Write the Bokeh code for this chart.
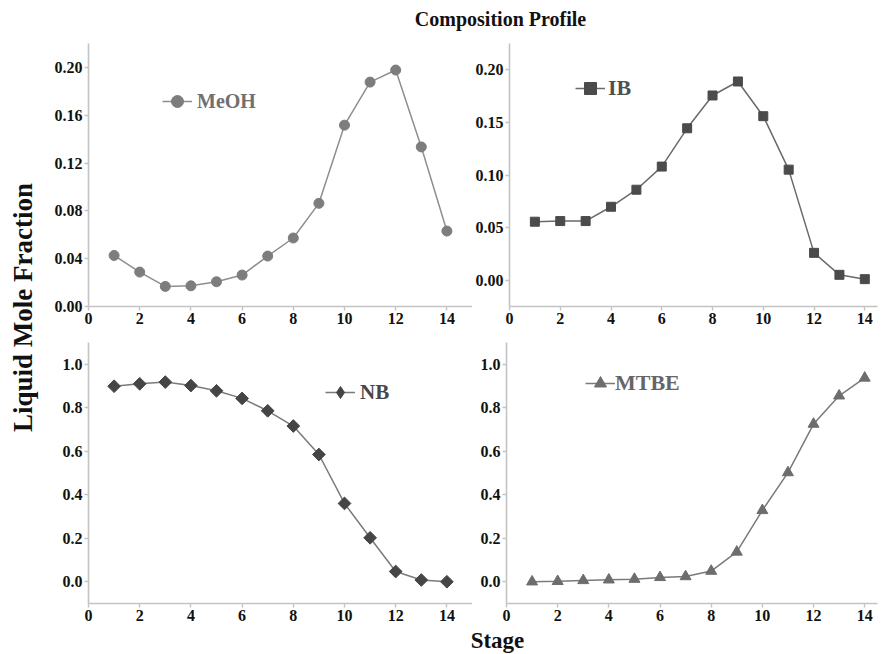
import math
from bokeh.plotting import figure
from bokeh.layouts import column, row
from bokeh.models import Range1d, Label, Legend, LegendItem, FixedTicker, NumeralTickFormatter
from bokeh.embed import file_html
from bokeh.resources import INLINE

# ---------------- data ----------------
stage = [1, 2, 3, 4, 5, 6, 7, 8, 9, 10, 11, 12, 13, 14]
meoh = [0.0427, 0.0288, 0.0168, 0.0173, 0.0207, 0.0263, 0.0422, 0.0573,
        0.0863, 0.1517, 0.1877, 0.1978, 0.1335, 0.0631]
ib = [0.0556, 0.0562, 0.0562, 0.0698, 0.0860, 0.1080, 0.1444, 0.1756,
      0.1889, 0.1559, 0.1051, 0.0260, 0.0051, 0.0010]
nb = [0.899, 0.910, 0.918, 0.902, 0.878, 0.843, 0.786, 0.716,
      0.585, 0.360, 0.202, 0.047, 0.008, 0.000]
mtbe = [0.000, 0.002, 0.006, 0.009, 0.012, 0.020, 0.024, 0.049,
        0.137, 0.328, 0.502, 0.725, 0.855, 0.937]

x_ticks = [0, 2, 4, 6, 8, 10, 12, 14]
meoh_ticks = [0.00, 0.04, 0.08, 0.12, 0.16, 0.20]
ib_ticks = [0.00, 0.05, 0.10, 0.15, 0.20]
frac_ticks = [0.0, 0.2, 0.4, 0.6, 0.8, 1.0]

title_text = "Composition Profile"
ylabel_text = "Liquid Mole Fraction"
xlabel_text = "Stage"

SERIF = "Liberation Serif"


def text_fig(w, h):
    f = figure(width=w, height=h, x_range=Range1d(0, w), y_range=Range1d(0, h),
               x_axis_type=None, y_axis_type=None, toolbar_location=None,
               output_backend="svg", min_border=0, outline_line_color=None)
    f.grid.visible = False
    return f


def panel(w, h, xr, yr, yticks, yfmt, borders):
    bl, br, bt, bb = borders
    f = figure(width=w, height=h, x_range=Range1d(*xr), y_range=Range1d(*yr),
               toolbar_location=None, output_backend="svg",
               min_border_left=bl, min_border_right=br,
               min_border_top=bt, min_border_bottom=bb,
               outline_line_color=None)
    f.grid.visible = False
    for ax in (f.xaxis[0], f.yaxis[0]):
        ax.axis_line_color = "#c4c4c4"
        ax.axis_line_width = 1.6
        ax.major_tick_line_color = "#c4c4c4"
        ax.major_tick_line_width = 1.4
        ax.major_tick_out = 4
        ax.major_tick_in = 0
        ax.minor_tick_line_color = None
        ax.major_label_text_font = SERIF
        ax.major_label_text_font_style = "bold"
        ax.major_label_text_font_size = "16px"
        ax.major_label_text_color = "#111111"
        ax.major_label_standoff = 2
    f.xaxis[0].ticker = FixedTicker(ticks=x_ticks)
    f.xaxis[0].formatter = NumeralTickFormatter(format="0")
    f.yaxis[0].ticker = FixedTicker(ticks=yticks)
    f.yaxis[0].formatter = NumeralTickFormatter(format=yfmt)
    return f


def add_series(f, y, marker, size, mcolor, lcolor, name, tcolor, tsize, loc,
               standoff, angle=0.0, legend_marker=None, legend_size=None):
    ln = f.line(stage, y, line_color=lcolor, line_width=1.5)
    sc = f.scatter(stage, y, marker=marker, size=size, angle=angle,
                   fill_color=mcolor, line_color=mcolor)
    leg_r = sc
    if legend_marker is not None:
        # legend-only glyph, placed outside the visible ranges
        leg_r = f.scatter(x=[-100], y=[-100], marker=legend_marker,
                          size=legend_size or size,
                          fill_color=mcolor, line_color=mcolor)
    leg = Legend(items=[LegendItem(label=name, renderers=[ln, leg_r])],
                 location=loc, padding=0, margin=0, spacing=0,
                 border_line_alpha=0, background_fill_alpha=0,
                 glyph_width=30, glyph_height=40, label_standoff=standoff,
                 label_text_font=SERIF, label_text_font_style="bold",
                 label_text_font_size=tsize, label_text_color=tcolor)
    f.add_layout(leg)


# layout geometry
LW, RW = 432, 411
TH, BH = 305, 291

tl = panel(LW, TH, (0, 15), (0, 0.22), meoh_ticks, "0.00", (48, 0, 10, 32))
tr = panel(RW, TH, (0, 14.5), (-0.025, 0.225), ib_ticks, "0.00", (34, 6, 10, 32))
bl = panel(LW, BH, (0, 15), (-0.1, 1.1), frac_ticks, "0.0", (48, 0, 4, 26))
br = panel(RW, BH, (0, 14.5), (-0.1, 1.1), frac_ticks, "0.0", (34, 6, 4, 26))

add_series(tl, meoh, "circle", 10, "#7d7d7d", "#8e8e8e", "MeOH", "#707070", "20px", (74, 185), 5)
add_series(tr, ib, "square", 9, "#4b4b4b", "#6a6a6a", "IB", "#505050", "22px", (66, 198), 3)
add_series(bl, nb, "square", 9, "#454545", "#7a7a7a", "NB", "#474747", "21px", (237, 191), 5,
           angle=math.pi / 4, legend_marker="diamond", legend_size=15)
add_series(br, mtbe, "triangle", 11, "#6d6d6d", "#7a7a7a", "MTBE", "#666666", "22px", (79, 200), 0)

# global texts
tfig = text_fig(883, 33)
tfig.add_layout(Label(x=500, y=15, text=title_text, text_align="center",
                      text_baseline="middle", text_font=SERIF,
                      text_font_style="bold", text_font_size="20px",
                      text_color="#111111"))

yfig = text_fig(40, TH + BH)
yfig.add_layout(Label(x=22, y=TH + BH - (307 - 33), text=ylabel_text,
                      angle=math.pi / 2, text_align="center",
                      text_baseline="middle", text_font=SERIF,
                      text_font_style="bold", text_font_size="27px",
                      text_color="#111111"))

XH = 654 - 33 - TH - BH
xfig = text_fig(883, XH)
xfig.add_layout(Label(x=497, y=XH - 11, text=xlabel_text, text_align="center",
                      text_baseline="middle", text_font=SERIF,
                      text_font_style="bold", text_font_size="23px",
                      text_color="#111111"))

grid = column(row(tl, tr), row(bl, br))
layout = column(tfig, row(yfig, grid), xfig)

open("out.html", "w").write(file_html(layout, INLINE))
